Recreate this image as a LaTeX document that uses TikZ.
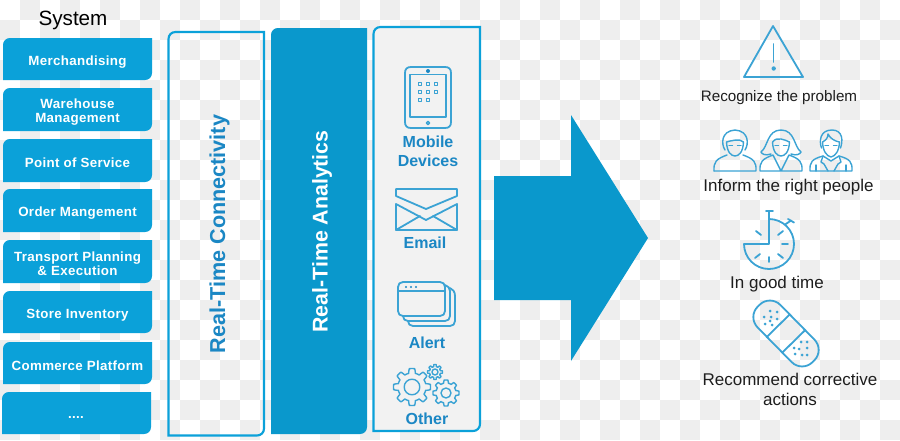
\documentclass[tikz,border=0pt]{standalone}
\usepackage{fontspec}
\setmainfont{Liberation Sans}
\newfontfamily\spaced[LetterSpace=2.5]{Liberation Sans}
\definecolor{boxblue}{HTML}{0BA1D9}
\definecolor{deepblue}{HTML}{0A98CC}
\definecolor{labelblue}{HTML}{1B87C4}
\definecolor{iconblue}{HTML}{3BA3D4}
\definecolor{checkgray}{HTML}{EEEEEE}
\definecolor{panelgray}{HTML}{F2F2F2}
\definecolor{inktext}{HTML}{1E1E1E}
\tikzset{
  x=0.75pt,y=-0.75pt,
  syslabel/.style={font=\spaced\bfseries\fontsize{10}{11}\selectfont,text=white,align=center,inner sep=0pt},
  channel/.style={font=\bfseries\fontsize{12}{14.2}\selectfont,text=labelblue,align=center,inner sep=0pt},
  outcome/.style={font=\fontsize{12.75}{15.4}\selectfont,text=inktext,align=center,inner sep=0pt},
  icon/.style={draw=iconblue,line width=1.35pt,line join=round,line cap=round},
  iconthin/.style={draw=iconblue,line width=1.05pt,line join=round,line cap=round},
}
% Panel with its top-left and bottom-right corners rounded
\newcommand{\diagpanel}[6][]{%
  \path[#1] (#2,#5) -- (#2,#3+7) .. controls (#2,#3+3) and (#2+3,#3) .. (#2+7,#3) -- (#4,#3)
    -- (#4,#5-7) .. controls (#4,#5-3) and (#4-3,#5) .. (#4-7,#5) -- cycle;%
}
% Gear outline with rounded-off teeth
\newcommand{\gearshape}[6]{%
  \draw[iconthin,fill=none] plot[samples=#6*16+1,domain=0:360,smooth]
    ({#1+(#4+(#3-#4)*max(0,min(1,0.5+2.2*cos(#6*\x))))*cos(\x)},
     {#2+(#4+(#3-#4)*max(0,min(1,0.5+2.2*cos(#6*\x))))*sin(\x)}) -- cycle;
  \draw[iconthin] (#1,#2) circle[radius=#5];%
}
\begin{document}
\begin{tikzpicture}
\useasboundingbox (0,0) rectangle (900,440);
% Backdrop
\fill[white] (0,0) rectangle (900,440);
\foreach \i in {0,...,44}{
  \foreach \j in {0,...,21}{
    \pgfmathparse{int(mod(\i+\j,2))}
    \ifnum\pgfmathresult=1
      \fill[checkgray] (\i*20,\j*20) rectangle (\i*20+20,\j*20+20);
    \fi
  }
}
% System column
\node[font=\fontsize{15.5}{18}\selectfont,text=black,inner sep=0pt] (system) at (73,20.5) {System};
\diagpanel[fill=boxblue]{3}{38}{152}{80}{}
\diagpanel[fill=boxblue]{3}{88}{152}{131}{}
\diagpanel[fill=boxblue]{3}{139}{152}{182}{}
\diagpanel[fill=boxblue]{3}{189}{152}{232}{}
\diagpanel[fill=boxblue]{3}{240}{152}{283}{}
\diagpanel[fill=boxblue]{3}{291}{152}{333}{}
\diagpanel[fill=boxblue]{3}{342}{152}{384}{}
\diagpanel[fill=boxblue]{2}{392}{151}{434}{}
\node[syslabel] (merch) at (77.5,62) {Merchandising};
\node[syslabel] (wms) at (77.5,112) {Warehouse\\[-0.6pt]Management};
\node[syslabel] (pos) at (77.5,162.5) {Point of Service};
\node[syslabel] (oms) at (77.5,213.5) {Order Mangement};
\node[syslabel] (tpe) at (77.5,263.5) {Transport Planning\\[-0.6pt]\&~Execution};
\node[syslabel] (inv) at (77.5,315) {Store Inventory};
\node[syslabel] (com) at (77.5,365.5) {Commerce Platform};
\node[syslabel] (etc) at (76,417) {....};
% Connectivity and analytics bars
\diagpanel[draw=boxblue,line width=1.6pt]{168.5}{32}{264}{435.5}{}
\node[rotate=90,font=\bfseries\fontsize{16.2}{18}\selectfont,text=labelblue,inner sep=0pt] (conn) at (219.5,234) {Real-Time Connectivity};
\diagpanel[fill=deepblue]{271}{28}{367}{434}{}
\node[rotate=90,font=\bfseries\fontsize{16}{18}\selectfont,text=white,inner sep=0pt] (ana) at (322,231.5) {Real-Time Analytics};
% Channels panel
\diagpanel[draw=boxblue,fill=panelgray,line width=1.6pt]{373.5}{27}{480}{431}{}
% Tablet
\draw[icon] (405,73) .. controls (405,69) and (407,67) .. (411,67) -- (445,67) .. controls (449,67) and (451,69) .. (451,73)
  -- (451,122) .. controls (451,126) and (449,128) .. (445,128) -- (411,128) .. controls (407,128) and (405,126) .. (405,122) -- cycle;
\draw[icon] (410,74.5) rectangle (446,117);
\fill[labelblue] (428,71) circle[radius=2];
\draw[iconthin] (428,123) circle[radius=1.6];
\foreach \px/\py in {420/84,428/84,436/84,420/92,428/92,436/92,420/100,428/100}
  \draw[iconthin] (\px-1.4,\py-1.4) rectangle (\px+1.4,\py+1.4);
\node[channel] (mob) at (428,151.5) {Mobile\\Devices};
% Envelope
\draw[icon] (396,189) -- (457,189) -- (457,196) -- (426,209) -- (396,196) -- cycle;
\draw[icon] (396,204) -- (396,230) -- (457,230) -- (457,204) -- (426,220) -- cycle;
\draw[icon] (396,230) -- (420,216);
\draw[icon] (457,230) -- (433,216);
\node[channel] (mail) at (425,243) {Email};
% Stacked windows
\draw[icon] (408,321) .. controls (408,324) and (410,326) .. (413,326) -- (450,326) .. controls (453,326) and (455,324) .. (455,321) -- (455,296) .. controls (455,292) and (453,289) .. (450,288);
\draw[icon] (403,316) .. controls (403,319) and (405,321) .. (408,321) -- (445,321) .. controls (448,321) and (450,319) .. (450,316) -- (450,291) .. controls (450,288) and (448,286) .. (445,285);
\draw[icon] (398,287) .. controls (398,284) and (400,282) .. (403,282) -- (440,282) .. controls (443,282) and (445,284) .. (445,287)
  -- (445,311) .. controls (445,314) and (443,316) .. (440,316) -- (403,316) .. controls (400,316) and (398,314) .. (398,311) -- cycle;
\draw[icon] (398,291) -- (445,291);
\foreach \px in {406,411,416} \fill[labelblue] (\px,287) circle[radius=1.2];
\node[channel] (alert) at (427,343) {Alert};
% Gears
\gearshape{412}{387}{18.5}{14}{7.8}{8}
\gearshape{446}{393}{13}{10}{5}{8}
\gearshape{435}{372}{7.5}{5.5}{3}{8}
\node[channel] (other) at (427,419) {Other};
% Big arrow
\fill[deepblue] (494,176) -- (571,176) -- (571,115) -- (648,238) -- (571,361) -- (571,300) -- (494,300) -- cycle;
% Warning triangle
\draw[icon] (773,26) -- (803,77) -- (744,77) -- cycle;
\draw[icon] (773.5,44) -- (773.5,62);
\fill[iconblue] (773.7,68.5) circle[radius=2.2];
\node[outcome,font=\fontsize{11.4}{15}\selectfont] (rec) at (779,97.5) {Recognize the problem};
% People: man
\begin{scope}[shift={(735,171)}]
  \draw[iconthin] (-21,0) -- (21,0) .. controls (21.5,-9) and (19,-12) .. (8,-16);
  \draw[iconthin] (-21,0) .. controls (-21.5,-9) and (-19,-12) .. (-8,-16);
  \draw[iconthin] (-10,-21) .. controls (-14,-27) and (-14,-40) .. (0,-41) .. controls (14,-40) and (14,-27) .. (10,-21);
  \draw[iconthin] (-8.5,-29) .. controls (-8,-19) and (-4,-15) .. (0,-15) .. controls (4,-15) and (8,-19) .. (8.5,-29) .. controls (5,-33) and (-5,-30) .. (-8.5,-29);
  \draw[iconthin] (-6,-25.5) -- (-2.5,-25.5) (2.5,-25.5) -- (6,-25.5);
\end{scope}
% People: woman
\begin{scope}[shift={(781,171)}]
  \draw[iconthin] (-21,0) -- (21,0) .. controls (21.5,-9) and (19,-12) .. (8,-16) -- (0,0) -- (-8,-16) .. controls (-19,-12) and (-21.5,-9) .. (-21,0);
  \draw[iconthin] (-10,-17) .. controls (-16,-15) and (-19,-17) .. (-20,-19) .. controls (-13,-24) and (-14,-41) .. (0,-41) .. controls (14,-41) and (13,-24) .. (20,-19) .. controls (19,-17) and (16,-15) .. (10,-17);
  \draw[iconthin] (-8.5,-29) .. controls (-8,-19) and (-4,-15) .. (0,-15) .. controls (4,-15) and (8,-19) .. (8.5,-29) .. controls (4,-31) and (-4,-35) .. (-8.5,-29);
  \draw[iconthin] (-6,-25.5) -- (-2.5,-25.5) (2.5,-25.5) -- (6,-25.5);
\end{scope}
% People: suited man
\begin{scope}[shift={(831,171)}]
  \draw[iconthin] (-21,0) -- (21,0) .. controls (21.5,-9) and (19,-12) .. (8,-15) -- (0,-10) -- (-8,-15) .. controls (-19,-12) and (-21.5,-9) .. (-21,0);
  \draw[iconthin] (-8,-15) -- (-10,-9) -- (-7,-7) -- (-3,0) (8,-15) -- (10,-9) -- (7,-7) -- (3,0);
  \draw[iconthin] (-15,-6) -- (-15,0) (15,-6) -- (15,0);
  \draw[iconthin] (-9.5,-23) .. controls (-12,-30) and (-11,-41) .. (1,-41) .. controls (12,-41) and (12,-30) .. (9.5,-23);
  \draw[iconthin] (-8.5,-29) .. controls (-8,-19) and (-4,-15) .. (0,-14) .. controls (4,-15) and (8,-19) .. (8.5,-29) .. controls (3,-30) and (-1,-33) .. (-3,-37) .. controls (-3,-33) and (-5,-31) .. (-8.5,-29);
  \draw[iconthin] (-6,-25.5) -- (-2.5,-25.5) (2.5,-25.5) -- (6,-25.5);
\end{scope}
\node[outcome] (inf) at (788.5,187.5) {Inform the right people};
% Stopwatch
\draw[icon] (769,211) -- (769,244) -- (744,244) arc[start angle=180,delta angle=270,radius=18.75pt];
\draw[icon] (766,211) -- (773,211);
\draw[icon] (785,224.5) -- (791,220.5);
\draw[icon] (788,219) -- (794,222.5);
\foreach \ax/\ay/\bx/\by in {778/235/783/231,782/244/788/244,778/254/783/258,769/257/769/262,760/254/755/258,761/235/756/231}
  \draw[icon] (\ax,\ay) -- (\bx,\by);
\node[outcome] (time) at (777,284) {In good time};
% Bandage
\begin{scope}[shift={(786,333.5)},rotate=-45.5]
  \draw[icon,rounded corners=11pt] (-39,-16) rectangle (39,16);
  \draw[icon] (-11,-16) -- (-11,16) (11,-16) -- (11,16);
\end{scope}
\foreach \dx/\dy in {770/311,777/312,764/317,771/317,777/319,770/321,765/324,772/325,
                     801/342,807/342,794/348,799/349,807/348,802/355,795/354,807/355}
  \fill[iconblue] (\dx,\dy) circle[radius=1.5];
\node[outcome] (fix) at (790,389) {Recommend corrective\\[-0.4pt]actions};
\end{tikzpicture}
\end{document}
